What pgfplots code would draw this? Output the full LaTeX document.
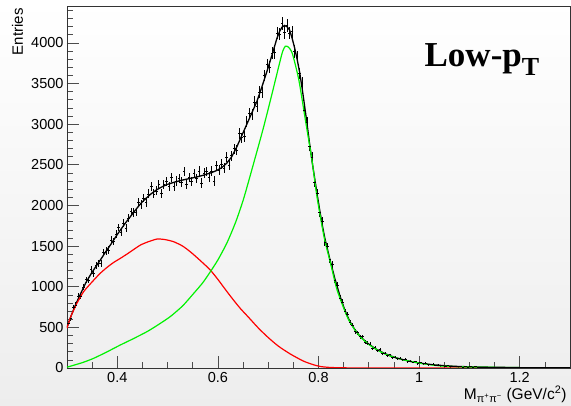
\documentclass[border=0pt]{standalone}
\usepackage{pgfplots}
\pgfplotsset{compat=1.18}
\usepackage{pgfplotstable}
\usepackage{fontspec}
\setmainfont{Liberation Sans}
\newfontfamily\titlefont{Liberation Serif}
\usetikzlibrary{backgrounds}

\pgfplotstableread{
x y e
0.3025 551 28
0.3075 609 30
0.3125 748 32
0.3175 775 34
0.3225 883 35
0.3275 880 36
0.3325 998 38
0.3375 1085 39
0.3425 1080 40
0.3475 1212 41
0.3525 1167 42
0.3575 1263 42
0.3625 1286 43
0.3675 1287 44
0.3725 1421 45
0.3775 1440 45
0.3825 1452 46
0.3875 1577 47
0.3925 1556 48
0.3975 1649 48
0.4025 1729 49
0.4075 1670 50
0.4125 1780 50
0.4175 1724 51
0.4225 1845 51
0.4275 1922 52
0.4325 1910 53
0.4375 1918 53
0.4425 2044 54
0.4475 2014 54
0.4525 2092 54
0.4575 2035 55
0.4625 2142 55
0.4675 2235 56
0.4725 2142 56
0.4775 2179 56
0.4825 2255 56
0.4875 2151 57
0.4925 2257 57
0.4975 2295 57
0.5025 2231 57
0.5075 2343 57
0.5125 2234 57
0.5175 2301 57
0.5225 2329 58
0.5275 2287 58
0.5325 2419 58
0.5375 2256 58
0.5425 2342 58
0.5475 2294 58
0.5525 2397 58
0.5575 2333 58
0.5625 2424 58
0.5675 2278 58
0.5725 2398 58
0.5775 2420 59
0.5825 2348 59
0.5875 2423 59
0.5925 2303 59
0.5975 2489 59
0.6025 2433 59
0.6075 2507 60
0.6125 2460 60
0.6175 2598 60
0.6225 2494 61
0.6275 2612 61
0.6325 2700 62
0.6375 2682 63
0.6425 2885 63
0.6475 2834 64
0.6525 2852 65
0.6575 3033 66
0.6625 3129 66
0.6675 3120 67
0.6725 3275 68
0.6775 3225 69
0.6825 3398 70
0.6875 3389 71
0.6925 3598 72
0.6975 3736 72
0.7025 3699 73
0.7075 3872 74
0.7125 3883 75
0.7175 4121 76
0.7225 4109 77
0.7275 4242 78
0.7325 4129 78
0.7375 4216 78
0.7425 4122 77
0.7475 4137 77
0.7525 3894 76
0.7575 3830 74
0.7625 3625 73
0.7675 3504 71
0.7725 3172 68
0.7775 3023 66
0.7825 2731 63
0.7875 2596 60
0.7925 2284 58
0.7975 2147 55
0.8025 1914 53
0.8075 1805 50
0.8125 1552 48
0.8175 1498 46
0.8225 1331 44
0.8275 1270 42
0.8325 1084 40
0.8375 1017 38
0.8425 858 36
0.8475 810 34
0.8525 691 32
0.8575 660 30
0.8625 561 29
0.8675 529 27
0.8725 449 26
0.8775 435 25
0.8825 385 24
0.8875 385 23
0.8925 317 22
0.8975 309 21
0.9025 296 20
0.9075 243 19
0.9125 248 19
0.9175 217 18
0.9225 225 17
0.9275 178 17
0.9325 183 16
0.9375 156 15
0.9425 163 15
0.9475 126 14
0.9525 134 14
0.9575 114 13
0.9625 120 13
0.9675 101 12
0.9725 107 12
0.9775 79 11
0.9825 85 11
0.9875 72 10
0.9925 76 10
0.9975 53 10
1.0025 64 9
1.0075 53 9
1.0125 59 9
1.0175 42 8
1.0225 46 8
1.0275 50 8
1.0325 32 7
1.0375 37 7
1.0425 30 7
1.0475 34 6
1.0525 24 6
1.0575 29 6
1.0625 18 6
1.0675 24 6
1.0725 25 5
1.0775 17 5
1.0825 19 5
1.0875 13 5
1.0925 20 5
1.0975 14 5
1.1025 16 4
1.1075 11 4
1.1125 17 4
1.1175 11 4
1.1225 14 4
1.1275 7 4
1.1325 13 4
1.1375 9 4
1.1425 14 4
1.1475 7 4
1.1525 10 4
1.1575 6 3
1.1625 10 3
1.1675 8 3
1.1725 9 3
1.1775 5 3
1.1825 8 3
1.1875 5 3
1.1925 9 3
1.1975 5 3
1.2025 6 3
1.2075 4 2
1.2125 5 3
1.2175 7 3
1.2225 3 2
1.2275 5 3
1.2325 4 2
1.2375 6 3
1.2425 4 2
1.2475 3 2
1.2525 5 3
1.2575 4 2
1.2625 2 2
1.2675 4 2
1.2725 5 3
1.2775 3 2
1.2825 4 2
1.2875 3 2
1.2925 2 2
1.2975 4 2
}\datatab

\definecolor{rootgreen}{rgb}{0,0.95,0}
\definecolor{rootred}{rgb}{1,0,0}

\begin{document}
\begin{tikzpicture}
\begin{axis}[
  at={(0,0)}, anchor=south west,
  scale only axis, width=503pt, height=362pt,
  xmin=0.3, xmax=1.3, ymin=0, ymax=4455,
  xtick={0.4,0.6,0.8,1.0,1.2},
  xticklabels={0.4,0.6,0.8,1,1.2},
  minor xtick={0.3,0.35,0.45,0.5,0.55,0.65,0.7,0.75,0.85,0.9,0.95,1.05,1.1,1.15,1.25,1.3},
  ytick={0,500,1000,1500,2000,2500,3000,3500,4000},
  minor ytick={100,200,...,4400},
  tick pos=left, tick align=inside,
  major tick length=12pt, minor tick length=6pt,
  tick style={black!70, line width=0.7pt},
  axis line style={black!80, line width=0.7pt},
  /pgf/number format/assume math mode=true,
  /pgf/number format/1000 sep={},
  tick label style={font=\fontsize{14.5}{16}\selectfont},
  xticklabel style={yshift=-1pt},
  ylabel={Entries},
  ylabel style={at={(axis description cs:-0.0875,1.003)}, anchor=base east, font=\fontsize{15}{17}\selectfont},
  xlabel={M\textsubscript{π\textsuperscript{+}π\textsuperscript{−}} (GeV/c\textsuperscript{2})},
  xlabel style={at={(axis description cs:1,-0.086)}, anchor=base east, font=\fontsize{15.5}{17}\selectfont},
  clip=true,
]
% data histogram
\addplot[black, line width=0.7pt, only marks, mark=-, mark size=1.26pt,
  error bars/.cd, y dir=both, y explicit, error mark=none,
  error bar style={black, line width=0.7pt}]
  table[x=x, y=y, y error=e] {\datatab};
% total fit
\addplot[black, line width=1.3pt, no marks] coordinates {
(0.300,500) (0.3075,630) (0.3175,785) (0.3275,920) (0.3375,1050) (0.3475,1155)
(0.3575,1250) (0.3675,1340) (0.3775,1435) (0.3875,1525) (0.3975,1620) (0.4075,1710)
(0.4175,1795) (0.4275,1875) (0.4375,1955) (0.4475,2030) (0.4575,2090) (0.4675,2145)
(0.4775,2190) (0.4875,2225) (0.4975,2255) (0.5125,2285) (0.5275,2310) (0.5425,2330)
(0.5575,2350) (0.5725,2375) (0.5875,2405) (0.5975,2430) (0.6075,2465) (0.6175,2520)
(0.6275,2600) (0.6375,2720) (0.6475,2860) (0.6575,3000) (0.6675,3140) (0.6775,3280)
(0.6875,3460) (0.6975,3650) (0.7075,3850) (0.7175,4060) (0.7225,4140) (0.7275,4195)
(0.7325,4215) (0.7375,4200) (0.7425,4160) (0.7475,4060) (0.7525,3940) (0.7575,3800)
(0.7625,3640) (0.7675,3440) (0.7725,3220) (0.7775,2990) (0.7825,2750) (0.7875,2530)
(0.7925,2330) (0.7975,2130) (0.8025,1940) (0.8075,1760) (0.8125,1600) (0.8225,1340)
(0.8325,1100) (0.8425,890) (0.8525,710) (0.8625,570) (0.8725,470) (0.8825,390)
(0.8975,305) (0.9125,240) (0.9275,190) (0.9425,150) (0.9575,120) (0.9725,95)
(0.9875,75) (1.0025,59) (1.0275,40) (1.0525,27) (1.0775,19) (1.1025,14) (1.15,9) (1.2,5)
};
% red component
\addplot[rootred, line width=1.2pt, no marks, smooth, tension=0.4] coordinates {
(0.300,490) (0.305,590) (0.310,670) (0.315,735) (0.320,800) (0.333,939) (0.350,1060)
(0.366,1165) (0.380,1240) (0.393,1300) (0.406,1349) (0.420,1405) (0.433,1460)
(0.446,1513) (0.460,1550) (0.479,1587) (0.495,1580) (0.512,1554) (0.530,1500)
(0.545,1431) (0.560,1350) (0.575,1265) (0.585,1205) (0.600,1090) (0.615,965)
(0.631,836) (0.645,730) (0.660,630) (0.681,488) (0.700,375) (0.720,270) (0.744,172)
(0.770,85) (0.790,40) (0.804,18) (0.820,8) (0.840,3) (0.870,1) (0.900,0) (1.200,0)
};
% green component
\addplot[rootgreen, line width=1.2pt, no marks, smooth, tension=0.4] coordinates {
(0.300,10) (0.330,65) (0.353,119) (0.380,200) (0.406,283) (0.430,355) (0.459,447)
(0.480,527) (0.505,631) (0.530,765) (0.552,919) (0.570,1050) (0.585,1185) (0.600,1330)
(0.618,1540) (0.635,1790) (0.651,2080) (0.671,2518) (0.691,2968) (0.711,3460)
(0.724,3788) (0.729,3900) (0.734,3960) (0.740,3950) (0.748,3870) (0.761,3542)
(0.774,3050) (0.787,2558) (0.797,2107) (0.811,1615) (0.824,1288) (0.837,959)
(0.857,631) (0.870,490) (0.883,385) (0.900,290) (0.917,221) (0.935,165) (0.957,119)
(0.980,85) (1.003,58) (1.043,25) (1.100,12) (1.150,8) (1.200,5)
};
\node[anchor=base west, font=\titlefont\bfseries\fontsize{35}{37}\selectfont]
  at (axis description cs:0.704,0.8315) {Low-p\raisebox{-9pt}{\fontsize{26}{28}\selectfont T}};
\end{axis}
\pgfresetboundingbox
\begin{scope}[on background layer]
\fill[top color=white, bottom color=black!7] (-67pt,-38pt) rectangle (504pt,368pt);
\end{scope}
\path (-67pt,-38pt) rectangle (504pt,368pt);
\end{tikzpicture}
\end{document}
